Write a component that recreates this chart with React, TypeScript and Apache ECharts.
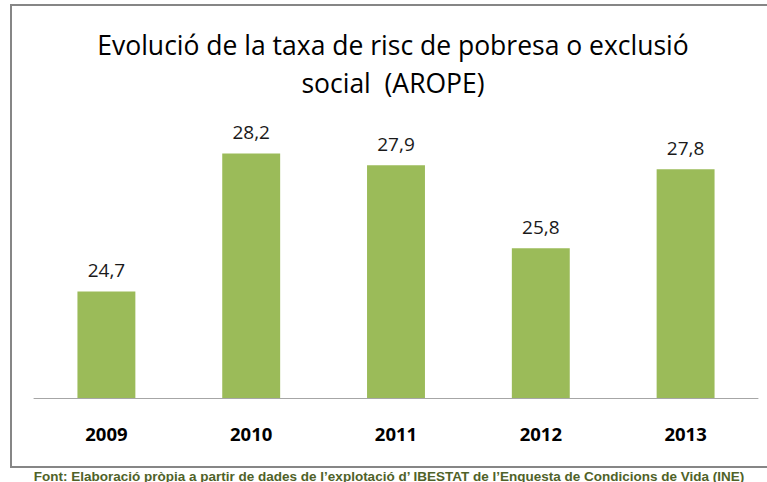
import React, { useEffect, useRef } from "react";
import * as echarts from "echarts";

const years = ["2009", "2010", "2011", "2012", "2013"];
const aropeValues = [24.7, 28.2, 27.9, 25.8, 27.8];
const titleLines = ["Evolució de la taxa de risc de pobresa o exclusió", "social  (AROPE)"];
const footerText =
  "Font: Elaboració pròpia a partir de dades de l’explotació d’ IBESTAT de l’Enquesta de Condicions de Vida (INE)";

export default function App() {
  const ref = useRef<HTMLDivElement>(null);
  useEffect(() => {
    if (!ref.current) return;
    const chart = echarts.init(ref.current, null, { renderer: "svg" });
    chart.setOption({
      animation: false,
      backgroundColor: "#ffffff",
      grid: { left: 34, right: 9, top: 122, bottom: 84 },
      xAxis: {
        type: "category",
        data: years,
        axisLine: { lineStyle: { color: "#a6a6a6", width: 1 } },
        axisTick: { show: false },
        axisLabel: {
          margin: 26,
          fontFamily: "Open Sans",
          fontSize: 18.5,
          fontWeight: "bold",
          color: "#000000",
        },
      },
      yAxis: {
        type: "value",
        min: 22,
        max: 29,
        show: false,
        splitLine: { show: false },
      },
      series: [
        {
          type: "bar",
          data: aropeValues,
          barWidth: "40%",
          itemStyle: { color: "#9bbb59" },
          label: {
            show: true,
            position: "top",
            distance: 12,
            fontFamily: "Open Sans",
            fontSize: 19,
            color: "#1a1a1a",
            formatter: (p: any) => String(p.value).replace(".", ","),
          },
        },
      ],
      graphic: [
        {
          type: "rect",
          shape: { x: 11, y: 5, width: 780, height: 462 },
          style: { fill: "none", stroke: "#868686", lineWidth: 2 },
          silent: true,
        },
        {
          type: "text",
          x: 393,
          y: 26,
          style: {
            text: titleLines.join("\n"),
            fontFamily: "Open Sans",
            fontSize: 26.5,
            lineHeight: 38,
            fill: "#000000",
            textAlign: "center",
            textVerticalAlign: "top",
          },
        },
        {
          type: "text",
          x: 389,
          y: 476,
          style: {
            text: footerText,
            fontFamily: "Liberation Sans",
            fontSize: 13.5,
            fontWeight: "bold",
            fill: "#4f6228",
            textAlign: "center",
            textVerticalAlign: "middle",
          },
        },
      ],
    });
    return () => chart.dispose();
  }, []);
  return (
    <div
      ref={ref}
      style={{ position: "fixed", left: 0, top: 0, width: 767, height: 482 }}
    />
  );
}
